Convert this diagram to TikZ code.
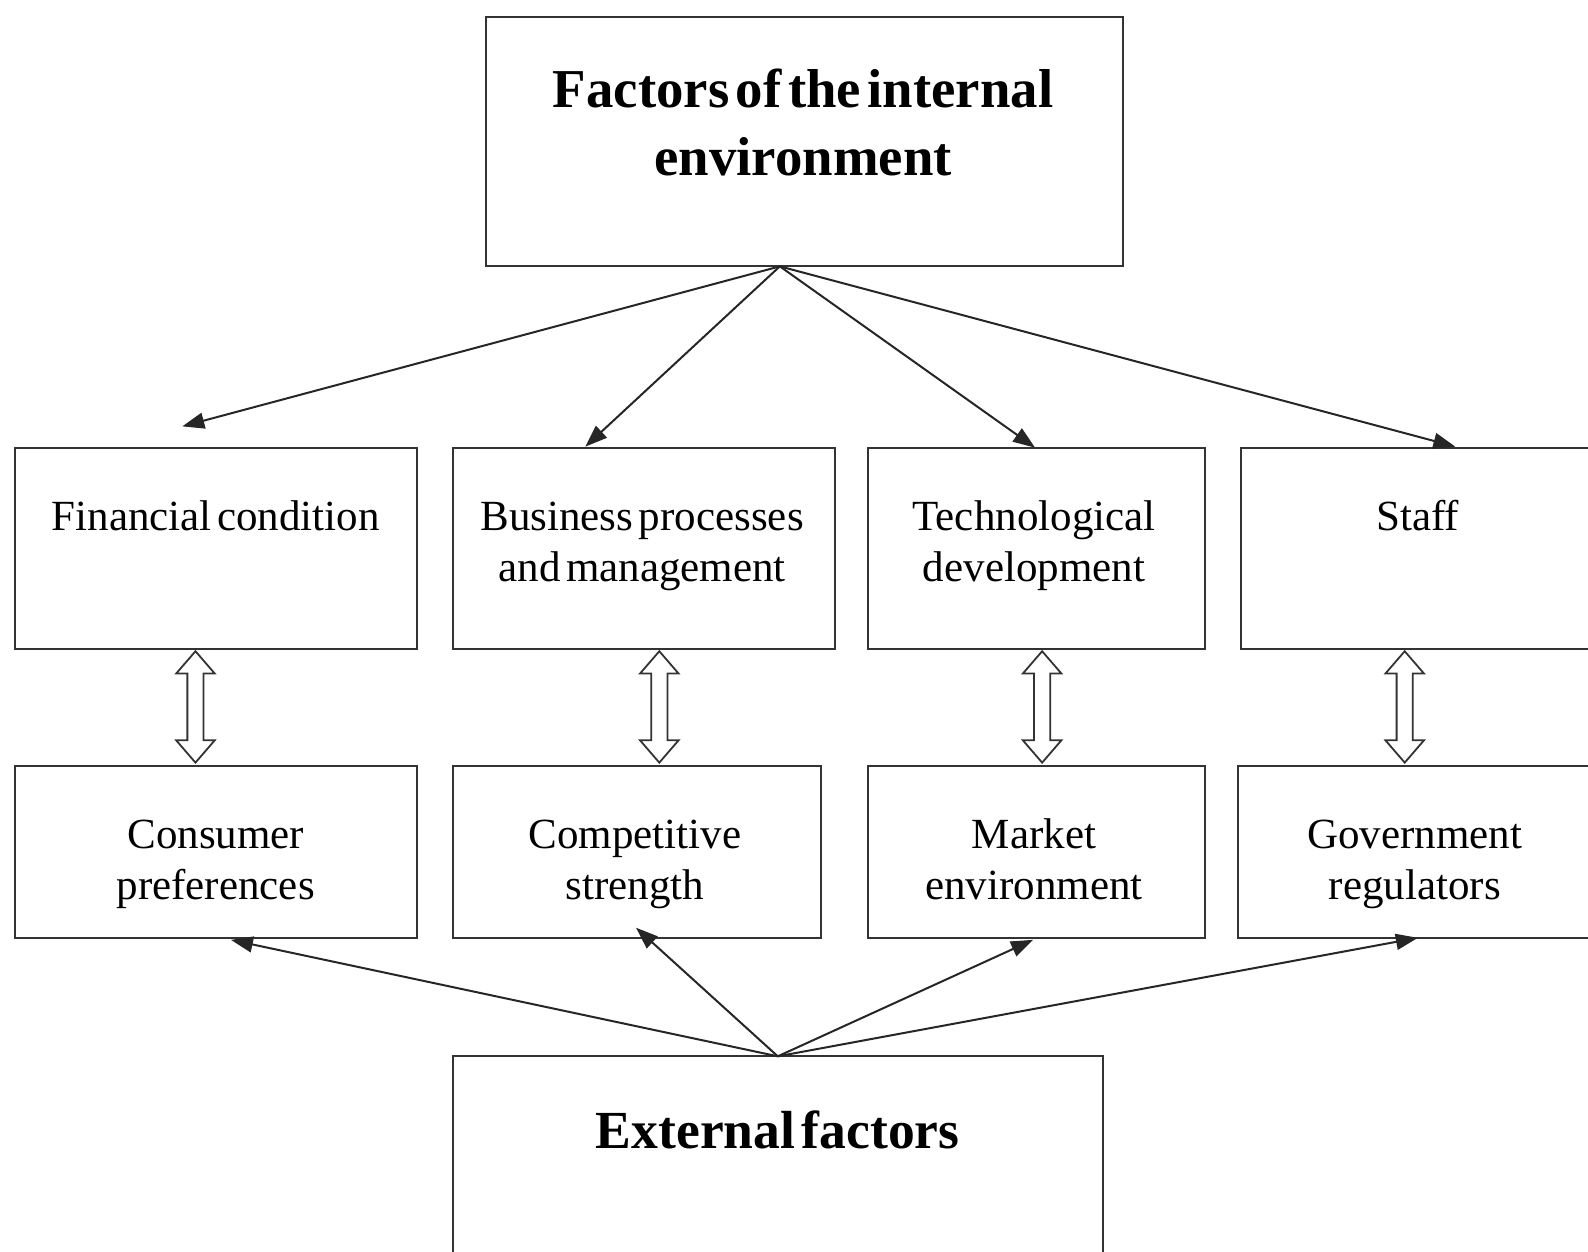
\documentclass[tikz,border=0pt]{standalone}
\usepackage{fontspec}
\setmainfont{Liberation Serif}
\usetikzlibrary{arrows.meta,fit}
\begin{document}
\begin{tikzpicture}[x=0.50638pt,y=-0.50638pt,
  box/.style={draw=black!80, line width=1pt, inner sep=0pt, fit={#1}},
  txt/.style={font={\fontsize{21.5}{25.3}\selectfont\spaceskip=0.13em\relax}, align=center, inner sep=0pt, anchor=base},
  ttl/.style={font={\fontsize{27.4}{34}\selectfont\bfseries\spaceskip=0.12em\relax}, align=center, inner sep=0pt, anchor=base},
  ttlb/.style={font={\fontsize{26.8}{34}\selectfont\bfseries\spaceskip=0.12em\relax}, align=center, inner sep=0pt, anchor=base},
  link/.style={draw=black!85, line width=1pt, -{Triangle[length=11pt,width=8pt]}},
  hollow/.style={draw=black!80, line width=0.9pt, fill=white, line join=miter}]
\useasboundingbox (0,0) rectangle (1568,1236.2);
\clip (0,0) rectangle (1568,1236.2);
% top box
\node[box={(480,17) (1109,263)}] (top) {};
\node[ttl] (toptxt) at (793,173) {Factors of the internal\\environment};
% row 1
\node[box={(15,442) (412,641)}] (fin) {};
\node[box={(447,442) (824,641)}] (bus) {};
\node[box={(857,442) (1190,641)}] (tech) {};
\node[box={(1225,442) (1572,641)}] (staff) {};
\node[txt] (fintxt) at (213,524) {Financial condition};
\node[txt] (bustxt) at (634,574) {Business processes\\and management};
\node[txt] (techtxt) at (1021,574) {Technological\\development};
\node[txt] (stafftxt) at (1400,524) {Staff};
% row 2
\node[box={(15,756) (412,926)}] (cons) {};
\node[box={(447,756) (811,926)}] (comp) {};
\node[box={(857,756) (1190,926)}] (mark) {};
\node[box={(1222,756) (1572,926)}] (gov) {};
\node[txt] (constxt) at (213,888) {Consumer\\preferences};
\node[txt] (comptxt) at (627,888) {Competitive\\strength};
\node[txt] (marktxt) at (1021,888) {Market\\environment};
\node[txt] (govtxt) at (1397,888) {Government\\regulators};
% bottom box
\node[box={(447,1043) (1089,1240)}] (ext) {};
\node[ttlb] (exttxt) at (768,1134) {External factors};
% arrows from top
\coordinate (ts) at (770,263);
\coordinate (a1) at (180,421);
\coordinate (a2) at (578,441);
\coordinate (a3) at (1022,442);
\coordinate (a4) at (1437,441);
\foreach \e in {a1,a2,a3,a4} \draw[link] (ts) -- (\e);
% arrows from bottom
\coordinate (bs) at (768,1043);
\coordinate (c1) at (228,928);
\coordinate (c2) at (628,916);
\coordinate (c3) at (1020,928);
\coordinate (c4) at (1400,926);
\foreach \e in {c1,c2,c3,c4} \draw[link] (bs) -- (\e);
% hollow double arrows
\foreach \x in {193,651,1029,1387}{
  \draw[hollow] (\x,643) -- (\x+19,665) -- (\x+8,665) -- (\x+8,731) -- (\x+19,731)
    -- (\x,753) -- (\x-19,731) -- (\x-8,731) -- (\x-8,665) -- (\x-19,665) -- cycle;
}
\end{tikzpicture}
\end{document}
